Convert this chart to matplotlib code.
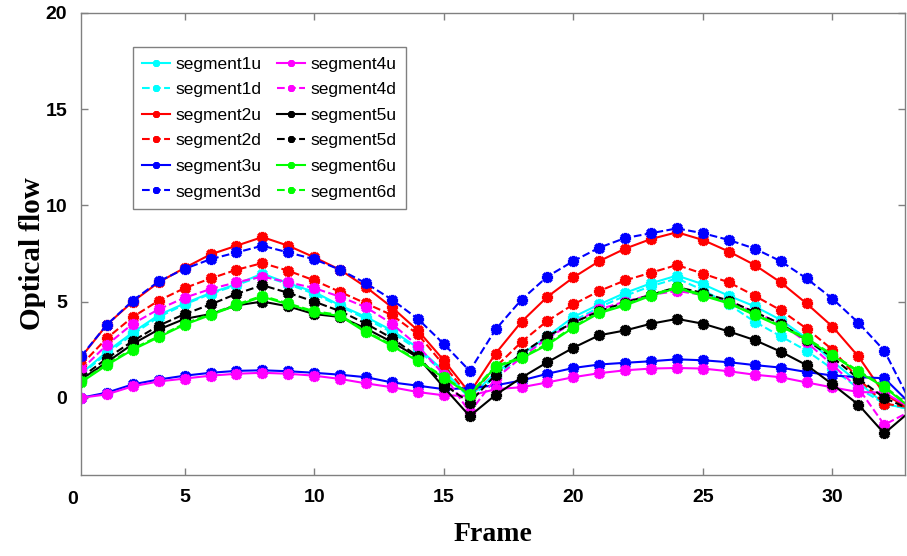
import matplotlib
matplotlib.use('Agg')
from matplotlib import pyplot as plt

frames = list(range(1, 34))

seg1u = [1.25, 2.4, 3.4, 4.3, 4.9, 5.45, 5.9, 6.45, 5.95, 5.5, 4.8, 4.2, 3.5, 2.6, 1.4, 0.05,
         1.3, 2.25, 3.2, 4.2, 4.85, 5.45, 5.95, 6.35, 5.9, 5.3, 4.75, 4.05, 3.1, 1.9, 0.8, -0.3, -0.6]
seg1d = [1.2, 2.3, 3.3, 4.2, 4.85, 5.4, 5.85, 6.35, 5.9, 5.4, 4.75, 4.1, 3.4, 2.5, 1.3, 0.0,
         1.1, 2.2, 3.1, 4.0, 4.7, 5.3, 5.8, 6.2, 5.6, 4.85, 3.95, 3.2, 2.45, 1.5, 0.5, -0.3, -0.6]
seg2u = [2.1, 3.8, 5.0, 6.0, 6.75, 7.45, 7.9, 8.35, 7.9, 7.3, 6.65, 5.75, 4.7, 3.5, 1.95, 0.25,
         2.3, 3.95, 5.25, 6.25, 7.1, 7.75, 8.25, 8.6, 8.2, 7.6, 6.9, 6.0, 4.9, 3.7, 2.15, 0.2, -0.6]
seg2d = [1.7, 3.1, 4.2, 5.05, 5.7, 6.2, 6.65, 7.0, 6.6, 6.1, 5.5, 4.9, 4.3, 3.3, 1.7, 0.05,
         1.6, 2.9, 4.0, 4.85, 5.55, 6.1, 6.5, 6.9, 6.45, 6.0, 5.3, 4.55, 3.6, 2.5, 1.0, -0.3, -0.5]
seg3u = [0.0, 0.27, 0.7, 0.95, 1.15, 1.3, 1.4, 1.43, 1.38, 1.3, 1.2, 1.07, 0.8, 0.63, 0.45, 0.5,
         0.65, 0.9, 1.25, 1.55, 1.73, 1.82, 1.9, 2.0, 1.95, 1.85, 1.7, 1.57, 1.34, 1.16, 1.07, 1.02, -0.3]
seg3d = [2.15, 3.8, 5.05, 6.05, 6.7, 7.2, 7.55, 7.9, 7.55, 7.2, 6.65, 5.95, 5.1, 4.1, 2.8, 1.4,
         3.55, 5.1, 6.3, 7.1, 7.8, 8.3, 8.55, 8.8, 8.55, 8.2, 7.75, 7.1, 6.2, 5.15, 3.9, 2.45, -0.2]
seg4u = [0.0, 0.18, 0.6, 0.85, 1.0, 1.15, 1.25, 1.3, 1.25, 1.15, 0.98, 0.75, 0.55, 0.3, 0.13, 0.1,
         0.45, 0.55, 0.8, 1.07, 1.28, 1.43, 1.52, 1.55, 1.52, 1.38, 1.2, 1.07, 0.8, 0.54, 0.3, 0.27, -0.5]
seg4d = [1.45, 2.75, 3.85, 4.6, 5.2, 5.65, 6.0, 6.3, 6.0, 5.7, 5.25, 4.7, 3.85, 2.7, 1.2, -0.75,
         1.0, 2.1, 3.1, 3.9, 4.6, 5.0, 5.35, 5.55, 5.35, 5.0, 4.45, 3.85, 2.9, 1.7, 0.5, -1.4, -0.7]
seg5u = [0.95, 1.85, 2.8, 3.55, 4.1, 4.35, 4.8, 5.0, 4.75, 4.35, 4.2, 3.6, 2.9, 2.1, 0.55, -0.95,
         0.15, 1.05, 1.85, 2.6, 3.25, 3.5, 3.85, 4.1, 3.85, 3.45, 3.0, 2.4, 1.7, 0.7, -0.35, -1.85, -0.7]
seg5d = [1.05, 2.05, 2.95, 3.75, 4.35, 4.85, 5.4, 5.85, 5.45, 5.0, 4.5, 3.85, 3.1, 2.15, 0.7, -0.25,
         1.2, 2.3, 3.2, 3.9, 4.5, 4.95, 5.35, 5.75, 5.45, 5.05, 4.45, 3.85, 3.0, 2.1, 1.0, 0.0, -0.6]
seg6u = [0.8, 1.7, 2.5, 3.15, 3.8, 4.3, 4.8, 5.25, 4.85, 4.45, 4.25, 3.4, 2.7, 1.9, 1.05, 0.15,
         1.6, 2.05, 2.75, 3.65, 4.4, 4.8, 5.3, 5.7, 5.3, 4.9, 4.3, 3.7, 3.05, 2.2, 1.35, 0.55, -0.5]
seg6d = [0.85, 1.75, 2.55, 3.2, 3.85, 4.35, 4.85, 5.3, 4.9, 4.5, 4.3, 3.45, 2.75, 1.95, 1.1, 0.2,
         1.65, 2.1, 2.8, 3.7, 4.45, 4.85, 5.35, 5.75, 5.35, 4.95, 4.35, 3.75, 3.1, 2.25, 1.4, 0.6, -0.45]

series = [('segment1u', seg1u, '#00ffff', '-'), ('segment1d', seg1d, '#00ffff', '--'),
          ('segment2u', seg2u, '#ff0000', '-'), ('segment2d', seg2d, '#ff0000', '--'),
          ('segment3u', seg3u, '#0000ff', '-'), ('segment3d', seg3d, '#0000ff', '--'),
          ('segment4u', seg4u, '#ff00ff', '-'), ('segment4d', seg4d, '#ff00ff', '--'),
          ('segment5u', seg5u, '#000000', '-'), ('segment5d', seg5d, '#000000', '--'),
          ('segment6u', seg6u, '#00ff00', '-'), ('segment6d', seg6d, '#00ff00', '--')]

plt.rcParams['font.family'] = 'Liberation Sans'
fig = plt.figure(figsize=(9.07, 5.56), dpi=100)
ax = fig.add_axes([0.0893, 0.146, 0.9085, 0.831])

for name, vals, col, ls in series:
    ax.plot(frames, vals, color=col, linestyle=ls, linewidth=1.5,
            marker=(8, 2, 0), markersize=8, markeredgewidth=2.4, label=name)

ax.set_xlim(1, 32.8)
ax.set_ylim(-4, 20)
ax.set_xticks([5, 10, 15, 20, 25, 30])
ax.set_yticks([0, 5, 10, 15, 20])
ax.tick_params(direction='in', length=5, width=1, color='#808080', top=True, right=True,
               labelsize=14, pad=10)
for lab in ax.get_xticklabels() + ax.get_yticklabels():
    lab.set_fontweight('bold')
for sp in ax.spines.values():
    sp.set_color('#808080')
    sp.set_linewidth(1)

# the lone "0" under the left corner
ax.text(0.69, -0.034, '0', transform=ax.get_xaxis_transform(), ha='center', va='top',
        fontsize=14, fontweight='bold')

ax.set_xlabel('Frame', family='Liberation Serif', fontweight='bold', fontsize=20, labelpad=12)
ax.set_ylabel('Optical flow', family='Liberation Serif', fontweight='bold', fontsize=21)
ax.yaxis.set_label_coords(-0.042, 0.478)

leg = ax.legend(ncol=2, loc='upper left', bbox_to_anchor=(0.063, 0.926), borderaxespad=0,
                fontsize=12.5, fancybox=False, edgecolor='#808080', framealpha=1,
                handlelength=1.6, handletextpad=0.3, columnspacing=0.9, labelspacing=0.6,
                borderpad=0.55)
leg.get_frame().set_linewidth(1)
for h in leg.legend_handles:
    h.set_markersize(5)
    h.set_markeredgewidth(1.5)

fig.savefig('out.png', dpi=100)
